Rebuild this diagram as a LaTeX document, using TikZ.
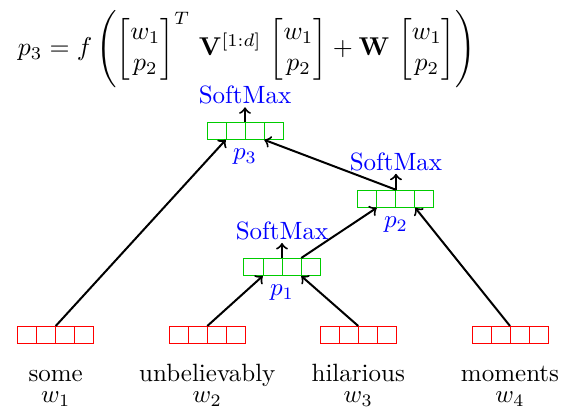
\documentclass[tikz,border=0pt]{standalone}
\usepackage{amsmath}
\usetikzlibrary{positioning,calc}

\begin{document}
\begin{tikzpicture}[
  vecbox/.style={draw=#1,minimum width=30.4pt,minimum height=6.8pt,inner sep=0pt,
    path picture={\foreach \k in {.25,.5,.75}
      \draw[#1] ($(path picture bounding box.south west)!\k!(path picture bounding box.south east)$)
        -- ($(path picture bounding box.north west)!\k!(path picture bounding box.north east)$);}},
  leafvec/.style={vecbox=red},
  hidvec/.style={vecbox=green!80!black},
  smax/.style={text=blue,inner sep=1pt},
  plbl/.style={text=blue},
  word/.style={anchor=base,inner sep=0pt},
  edge/.style={->,thick}]
\useasboundingbox (0,0) rectangle (7.928,-5.805);
% composition formula
\node[inner sep=0pt,scale=1.03] (eq) at (3.47,-0.69) {$p_3 = f\left(\begin{bmatrix}w_1\\p_2\end{bmatrix}^T\,\mathbf{V}^{[1:d]}\,\begin{bmatrix}w_1\\p_2\end{bmatrix}+\mathbf{W}\,\begin{bmatrix}w_1\\p_2\end{bmatrix}\right)$};
% word vectors
\node[leafvec] (x1) at (0.783,-4.709) {};
\node[leafvec] (x2) at (2.914,-4.709) {};
\node[leafvec] (x3) at (5.036,-4.709) {};
\node[leafvec] (x4) at (7.169,-4.709) {};
\node[word] (t1) at (0.783,-5.369) {some};
\node[word] (t2) at (2.914,-5.369) {unbelievably};
\node[word] (t3) at (5.036,-5.369) {hilarious};
\node[word] (t4) at (7.169,-5.369) {moments};
\node[word] (v1) at (0.783,-5.656) {$w_1$};
\node[word] (v2) at (2.914,-5.656) {$w_2$};
\node[word] (v3) at (5.036,-5.656) {$w_3$};
\node[word] (v4) at (7.169,-5.656) {$w_4$};
% composed vectors
\node[hidvec] (p1) at (3.964,-3.753) {};
\node[hidvec] (p2) at (5.566,-2.794) {};
\node[hidvec] (p3) at (3.444,-1.839) {};
\node[plbl,below=0pt of p1] (l1) {$p_1$};
\node[plbl,below=0pt of p2] (l2) {$p_2$};
\node[plbl,below=0pt of p3] (l3) {$p_3$};
\node[smax,above=6pt of p1] (s1) {SoftMax};
\node[smax,above=6.4pt of p2] (s2) {SoftMax};
\node[smax,above=5.8pt of p3] (s3) {SoftMax};
% connections
\draw[edge] (x1.north) -- ($(p3.south west)!.25!(p3.south east)$);
\draw[edge] (x2.north) -- ($(p1.south west)!.25!(p1.south east)$);
\draw[edge] (x3.north) -- ($(p1.south west)!.75!(p1.south east)$);
\draw[edge] ($(p1.north west)!.75!(p1.north east)$) -- ($(p2.south west)!.25!(p2.south east)$);
\draw[edge] (x4.north) -- ($(p2.south west)!.75!(p2.south east)$);
\draw[edge] (p2.north) -- ($(p3.south west)!.75!(p3.south east)$);
\draw[edge] (p1.north) -- (s1.south);
\draw[edge] (p2.north) -- (s2.south);
\draw[edge] (p3.north) -- (s3.south);
\end{tikzpicture}
\end{document}
